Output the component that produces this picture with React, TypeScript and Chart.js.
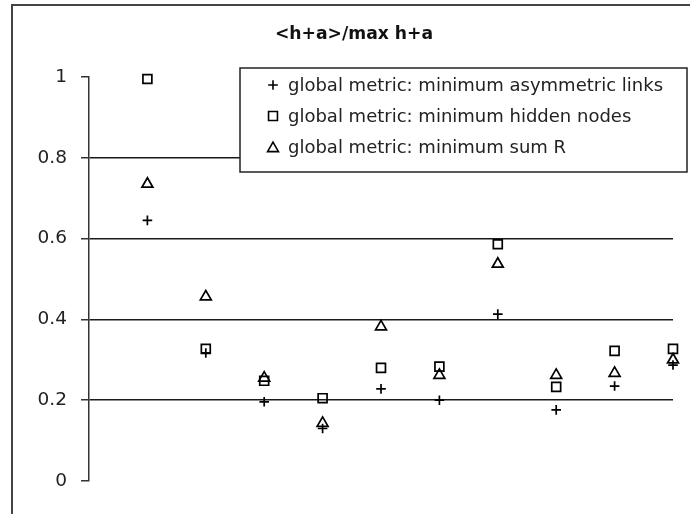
import React, { useEffect, useRef } from "react";
import { Chart, registerables } from "chart.js";
import { drawPoint } from "chart.js/helpers";

Chart.register(...registerables);

const TITLE = "<h+a>/max h+a";
const CATEGORIES = [1, 2, 3, 4, 5, 6, 7, 8, 9, 10];
const SERIES_LABELS = [
  "global metric: minimum asymmetric links",
  "global metric: minimum hidden nodes",
  "global metric: minimum sum R",
];
const ASYMMETRIC_LINKS = [0.645, 0.317, 0.196, 0.13, 0.228, 0.2, 0.413, 0.176, 0.235, 0.287];
const HIDDEN_NODES = [0.995, 0.327, 0.248, 0.205, 0.28, 0.283, 0.586, 0.233, 0.322, 0.327];
const SUM_R = [0.735, 0.456, 0.255, 0.143, 0.382, 0.262, 0.537, 0.262, 0.267, 0.3];
const Y_TICKS = [0, 0.2, 0.4, 0.6, 0.8, 1];

const FONT = "'DejaVu Sans', Verdana, sans-serif";

const framePlugin = {
  id: "frame",
  beforeDraw(chart: any) {
    const ctx = chart.ctx;
    ctx.save();
    ctx.fillStyle = "#ffffff";
    ctx.fillRect(0, 0, chart.width, chart.height);
    ctx.strokeStyle = "#444";
    ctx.lineWidth = 2;
    ctx.beginPath();
    ctx.moveTo(12, chart.height);
    ctx.lineTo(12, 5);
    ctx.lineTo(chart.width, 5);
    ctx.stroke();
    ctx.restore();
  },
  afterDraw(chart: any) {
    const ctx = chart.ctx;
    ctx.save();
    // title
    ctx.fillStyle = "#111";
    ctx.font = `bold 17.2px ${FONT}`;
    ctx.textAlign = "center";
    ctx.textBaseline = "middle";
    ctx.fillText(TITLE, 354, 35);
    // legend box
    ctx.fillStyle = "#ffffff";
    ctx.fillRect(240, 68, 447, 104);
    ctx.strokeStyle = "#222";
    ctx.lineWidth = 1.5;
    ctx.strokeRect(240, 68, 447, 104);
    const rows = [85, 116, 147];
    chart.data.datasets.forEach((ds: any, i: number) => {
      ctx.strokeStyle = "#000";
      ctx.fillStyle = "rgba(0,0,0,0)";
      ctx.lineWidth = 1.6;
      drawPoint(ctx, { pointStyle: ds.pointStyle, radius: ds.pointRadius, rotation: 0, borderWidth: 1.6 }, 273, rows[i] + (ds.pointStyle === "triangle" ? 1.5 : 0));
      ctx.fillStyle = "#222";
      ctx.font = `18px ${FONT}`;
      ctx.textAlign = "left";
      ctx.textBaseline = "middle";
      ctx.fillText(ds.label, 288, rows[i] + 1);
    });
    ctx.restore();
  },
};

export default function App() {
  const ref = useRef<HTMLCanvasElement | null>(null);
  useEffect(() => {
    if (!ref.current) return;
    const mk = (vals: number[]) => vals.map((v, i) => ({ x: CATEGORIES[i], y: v }));
    const common = {
      borderColor: "#000",
      backgroundColor: "rgba(0,0,0,0)",
      borderWidth: 1.7,
      clip: false,
    };
    const chart = new Chart(ref.current, {
      type: "scatter",
      data: {
        datasets: [
          { label: SERIES_LABELS[0], data: mk(ASYMMETRIC_LINKS), pointStyle: "cross", pointRadius: 4.8, ...common },
          { label: SERIES_LABELS[1], data: mk(HIDDEN_NODES), pointStyle: "rect", pointRadius: 6.3, ...common },
          { label: SERIES_LABELS[2], data: mk(SUM_R), pointStyle: "triangle", pointRadius: 6.3, ...common },
        ] as any,
      },
      options: {
        animation: false,
        responsive: false,
        devicePixelRatio: 1,
        layout: { padding: { left: 0, top: 77, right: 17, bottom: 33 } },
        plugins: { legend: { display: false }, title: { display: false }, tooltip: { enabled: false } },
        scales: {
          x: { type: "linear", min: 0, max: 10, display: false },
          y: {
            type: "linear",
            min: 0,
            max: 1,
            afterBuildTicks: (scale: any) => {
              scale.ticks = Y_TICKS.map((v) => ({ value: v }));
            },
            afterFit: (scale: any) => {
              scale.width = 89;
            },
            ticks: {
              padding: 14,
              color: "#222",
              font: { family: FONT, size: 18.5 },
              callback: (v: any) => String(Number(v)),
            },
            grid: {
              color: (c: any) => (c.tick && (c.tick.value === 0 || c.tick.value === 1) ? "rgba(0,0,0,0)" : "#1a1a1a"),
              lineWidth: 1.5,
              tickColor: "#333",
              tickLength: 8,
            },
            border: { display: true, color: "#333", width: 1.5 },
          },
        },
      },
      plugins: [framePlugin],
    });
    return () => chart.destroy();
  }, []);
  return (
    <div style={{ position: "absolute", left: 0, top: 0, width: 690, height: 514 }}>
      <canvas ref={ref} width={690} height={514} style={{ width: 690, height: 514 }} />
    </div>
  );
}
